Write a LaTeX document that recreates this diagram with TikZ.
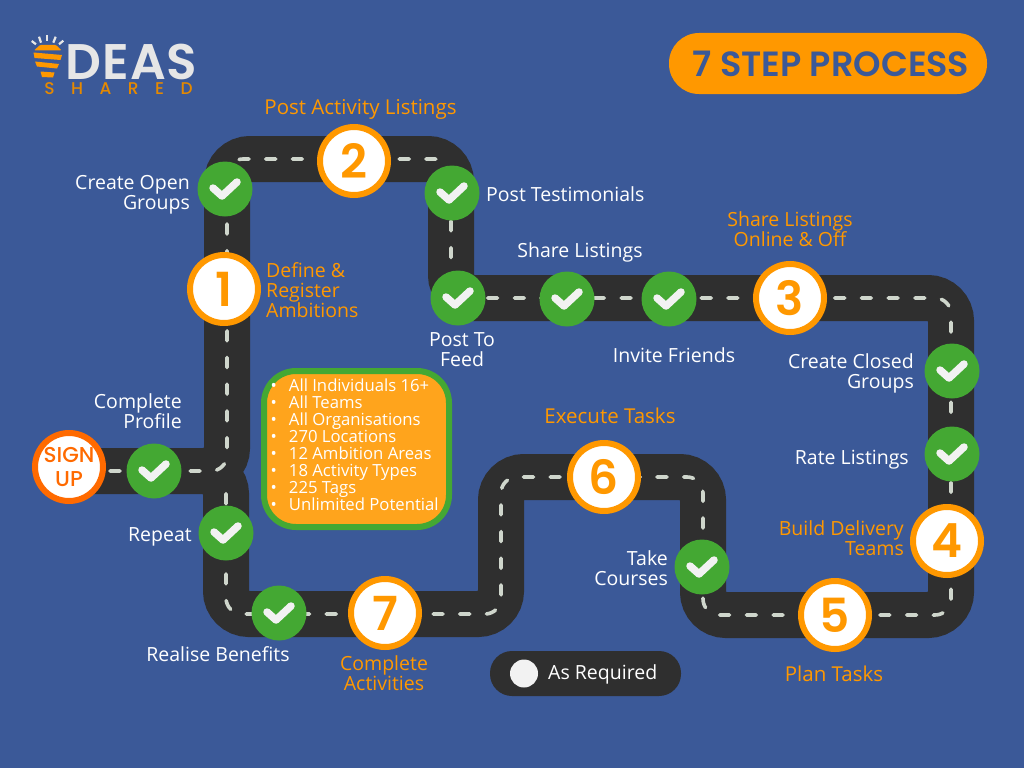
\documentclass[tikz,border=0pt]{standalone}
\usepackage{fontspec}
\setmainfont{Open Sans}
\newfontfamily\headfont{Poppins Medium}
\newfontfamily\heavyfont{Poppins SemiBold}
\newfontfamily\logofont[LetterSpace=2]{Poppins SemiBold}
\usetikzlibrary{positioning}
\definecolor{bgblue}{HTML}{3B5998}
\definecolor{roadgray}{HTML}{2F2F2F}
\definecolor{lanegray}{HTML}{CFD6CC}
\definecolor{tickgreen}{HTML}{44A833}
\definecolor{stepor}{HTML}{FF9800}
\definecolor{listor}{HTML}{FFA41C}
\definecolor{signor}{HTML}{FF6A00}
\definecolor{logogray}{HTML}{E6E6E6}

\begin{document}
\begin{tikzpicture}[x=1pt,y=-1pt,
  road/.style={line width=46pt,draw=roadgray,rounded corners=23pt},
  lane/.style={line width=3.6pt,draw=lanegray,rounded corners=16pt,dash pattern=on 10pt off 16.7pt,line cap=round},
  stepnode/.style={circle,fill=white,draw=stepor,line width=6pt,minimum size=68pt,inner sep=0pt,
                   font=\heavyfont\fontsize{47}{47}\selectfont,text=stepor},
  ticknode/.style={circle,fill=tickgreen,minimum size=55pt,inner sep=0pt,
                   path picture={\draw[white!95!black,line width=7.5pt,line cap=round,line join=round]
                     ([shift={(-12,-1)}]path picture bounding box.center) --
                     ([shift={(-3,7)}]path picture bounding box.center) --
                     ([shift={(12,-7)}]path picture bounding box.center);}},
  whitelbl/.style={text=white,font=\fontsize{19.5}{20}\selectfont,inner sep=0pt},
  orlbl/.style={text=stepor,font=\fontsize{19.5}{20}\selectfont,inner sep=0pt},
  orwide/.style={text=stepor,font=\fontsize{20.5}{20}\selectfont,inner sep=0pt}
]
\useasboundingbox (0,0) rectangle (1024,768);
\fill[bgblue] (0,0) rectangle (1024,768);

% ---- Road ---------------------------------------------------
\draw[road] (90,471) -- (227,471) -- (227,159) -- (451,159) -- (451,298) -- (951,298)
  -- (951,615) -- (703,615) -- (703,477) -- (501,477) -- (501,614) -- (226,614) -- (226,471) -- (90,471);
\draw[lane] (110,471) -- (227,471) -- (227,159) -- (451,159) -- (451,298) -- (951,298)
  -- (951,615) -- (703,615) -- (703,477) -- (501,477) -- (501,614) -- (226,614) -- (226,490);

% ---- Logo ---------------------------------------------------
\fill[stepor,rounded corners=1pt] (34,50.5) -- (40,45) -- (56,45) -- (61.5,50.5) -- cycle;
\fill[stepor] (33.5,52.5) -- (62,55) -- (60.5,60) -- (34.5,58) -- cycle;
\fill[stepor] (35,61.5) -- (59,64) -- (57,68.5) -- (37,66.5) -- cycle;
\fill[stepor] (40.5,71.5) -- (54.5,72.5) -- (53,77.5) -- (42,77) -- cycle;
\foreach \xa/\ya/\xb/\yb in {31.7/41/36/44.3, 39/36.7/41/42.7, 47.3/35/47.3/40.7, 55.7/36.7/53.3/42.7, 63.3/40.7/59/44.3}
  \draw[logogray,line width=2.2pt] (\xa,\ya) -- (\xb,\yb);
\node[text=logogray,inner sep=0pt,font=\logofont\fontsize{50}{50}\selectfont] (logoword) at (131.5,61.5) {DEAS};
\node[text=stepor!90!black,inner sep=0pt,font=\headfont\fontsize{17}{17}\selectfont] (logosub) at (118.5,88.5) {S\hspace{16.5pt}H\hspace{16.5pt}A\hspace{16.5pt}R\hspace{16.5pt}E\hspace{16.5pt}D};

% ---- Title pill ---------------------------------------------
\node[fill=stepor,rounded corners=30pt,minimum width=318pt,minimum height=61pt,inner sep=0pt,
      text=bgblue,font=\heavyfont\fontsize{35}{35}\selectfont] (title) at (828,63.5) {\hspace{6pt}7 STEP PROCESS};

% ---- Steps --------------------------------------------------
\node[stepnode,draw=signor,text=signor,font=\headfont\fontsize{21.5}{23.5}\selectfont,align=center] (signup) at (69,467) {SIGN\\UP};
\node[stepnode] (s1) at (224,289) {1};
\node[stepnode] (s2) at (354,161) {2};
\node[stepnode] (s3) at (790,298) {3};
\node[stepnode] (s4) at (947,541) {4};
\node[stepnode] (s5) at (835,615) {5};
\node[stepnode] (s6) at (604,477) {6};
\node[stepnode] (s7) at (385,613) {7};

% ---- Ticks --------------------------------------------------
\foreach \nm/\px/\py in {open/225/189, testi/452/193, feed/458/298, share/567/299, invite/669/299,
    closed/952/371, rate/952/454, courses/702/567, benefit/279/613, repeat/226/533, profile/154/471}
  \node[ticknode] (t\nm) at (\px,\py) {};

% ---- Orange labels ------------------------------------------
\node[orwide] (lpost) at (360.5,109) {Post Activity Listings};
\node[orlbl,align=center] (lshare) at (790,229) {Share Listings\\Online \& Off};
\node[orlbl,align=left,anchor=west] (ldefine) at (266,290) {Define \&\\Register\\Ambitions};
\node[orlbl,align=right,anchor=east] (lbuild) at (904,538) {Build Delivery\\Teams};
\node[orwide] (lexec) at (610,416) {Execute Tasks};
\node[orwide] (lplan) at (834,674) {Plan Tasks};
\node[orlbl,align=center] (lcomp) at (384,673) {Complete\\Activities};

% ---- White labels -------------------------------------------
\node[whitelbl,align=right,anchor=east] (wopen) at (190,195) {Create Open\\Groups};
\node[whitelbl,anchor=west] (wtesti) at (486,194) {Post Testimonials};
\node[whitelbl] (wshare) at (580,252) {Share Listings};
\node[whitelbl,align=center] (wfeed) at (462,350) {Post To\\Feed};
\node[whitelbl] (winvite) at (674,355) {Invite Friends};
\node[whitelbl,align=right,anchor=east] (wclosed) at (914,373) {Create Closed\\Groups};
\node[whitelbl,anchor=east] (wrate) at (909,460) {Rate Listings};
\node[whitelbl,align=right,anchor=east] (wcourse) at (668,568) {Take\\Courses};
\node[whitelbl] (wbenefit) at (218,654) {Realise Benefits};
\node[whitelbl,anchor=east] (wrepeat) at (192,537) {Repeat};
\node[whitelbl,align=right,anchor=east] (wprofile) at (182,411) {Complete\\Profile};

% ---- Audience list ------------------------------------------
\node[fill=listor,draw=tickgreen,line width=6pt,rounded corners=32pt,minimum width=185pt,minimum height=156pt,inner sep=0pt] (listbox) at (356.5,449) {};
\node[text=white,anchor=north west,inner sep=0pt,align=left,font=\fontsize{16.7}{17}\selectfont] (listtxt) at (270.5,379)
  {\textbullet\hspace{12pt}All Individuals 16+\\
   \textbullet\hspace{12pt}All Teams\\
   \textbullet\hspace{12pt}All Organisations\\
   \textbullet\hspace{12pt}270 Locations\\
   \textbullet\hspace{12pt}12 Ambition Areas\\
   \textbullet\hspace{12pt}18 Activity Types\\
   \textbullet\hspace{12pt}225 Tags\\
   \textbullet\hspace{12pt}Unlimited Potential};

% ---- Legend -------------------------------------------------
\node[fill=roadgray,rounded corners=22pt,minimum width=191pt,minimum height=45pt,inner sep=0pt] (legend) at (585.5,673.5) {};
\node[circle,fill=white!95!black,minimum size=28pt,inner sep=0pt] (legdot) at (524,673.5) {};
\node[whitelbl,anchor=west] (legtxt) at (548,674.5) {As Required};
\end{tikzpicture}
\end{document}
